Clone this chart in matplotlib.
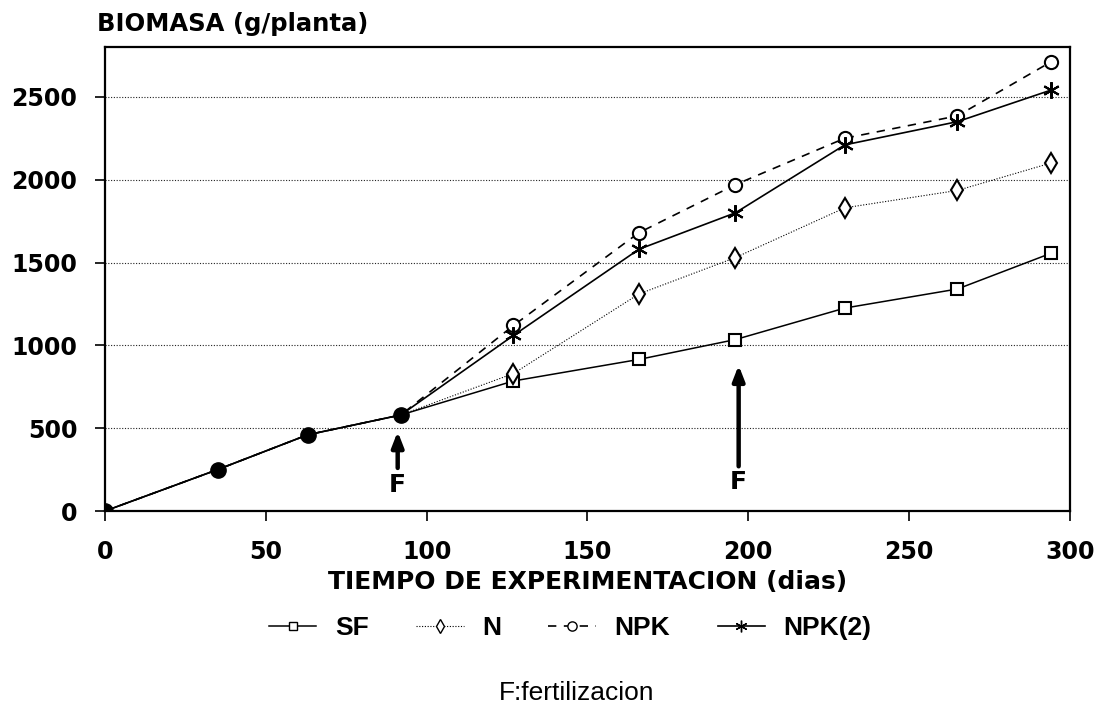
"""Biomasa por planta frente al tiempo de experimentacion."""
import matplotlib
matplotlib.use("Agg")
import matplotlib.pyplot as plt

plt.rcParams["font.family"] = ["DejaVu Sans"]

# --- data -------------------------------------------------------------
dias = [0, 35, 63, 92, 127, 166, 196, 230, 265, 294]
sf = [0, 250, 460, 580, 785, 915, 1035, 1225, 1340, 1555]
n = [0, 250, 460, 580, 830, 1310, 1530, 1830, 1935, 2100]
npk = [0, 250, 460, 580, 1120, 1680, 1970, 2250, 2385, 2710]
npk2 = [0, 250, 460, 580, 1060, 1580, 1800, 2210, 2350, 2540]
n_comun = 4  # primeros puntos compartidos por todos los tratamientos

fert_dias = [91, 197]
fert_desde = [260, 270]
fert_hasta = [480, 880]
fert_texto_y = [157, 175]

yticks = [0, 500, 1000, 1500, 2000, 2500]
xticks = [0, 50, 100, 150, 200, 250, 300]

# --- figure -----------------------------------------------------------
fig = plt.figure(figsize=(11.05, 7.26), dpi=100)
ax = fig.add_axes([0.0950, 0.2961, 0.8733, 0.639])

ax.set_xlim(0, 300)
ax.set_ylim(0, 2800)

for y in yticks[1:]:
    ax.axhline(y, color="#222222", linestyle=(0, (1, 1.5)), linewidth=0.8, zorder=1)

estrella = (6, 2, 0)
series = [
    (sf, "SF", "-", "s", 1.1, 8.5),
    (n, "N", (0, (1, 1.5)), "d", 0.8, 10),
    (npk, "NPK", (0, (5, 4.5)), "o", 1.2, 9.5),
    (npk2, "NPK(2)", "-", estrella, 1.2, 12),
]
handles = []
for vals, lab, ls, mk, lw, ms in series:
    ax.plot(dias, vals, color="black", linestyle=ls, linewidth=lw, zorder=2)
    ax.plot(dias[n_comun:], vals[n_comun:], linestyle="none", marker=mk,
            markersize=ms, markerfacecolor="white",
            markeredgecolor="black", markeredgewidth=1.5, zorder=3)
    h, = ax.plot([], [], color="black", linestyle=ls, linewidth=lw, marker=mk,
                 markersize=ms * 0.7, markerfacecolor="white",
                 markeredgecolor="black", markeredgewidth=1.0, label=lab)
    handles.append(h)

# puntos comunes antes de la fertilizacion
ax.plot(dias[:n_comun], sf[:n_comun], linestyle="none", marker="o",
        markersize=11, color="black", zorder=4)

for xf, y0, y1, yt in zip(fert_dias, fert_desde, fert_hasta, fert_texto_y):
    ax.annotate("", xy=(xf, y1), xytext=(xf, y0),
                arrowprops=dict(arrowstyle="-|>,head_width=0.35,head_length=0.9",
                                color="black", linewidth=3.2, shrinkA=0, shrinkB=0))
    ax.text(xf, yt, "F", ha="center", va="center", fontsize=18, fontweight="bold")

for side in ["left", "right", "top", "bottom"]:
    ax.spines[side].set_linewidth(1.6)

ax.set_xticks(xticks)
ax.set_yticks(yticks)
ax.tick_params(axis="both", direction="out", length=7, width=1.2)
ax.tick_params(axis="x", labelsize=17, pad=14)
ax.tick_params(axis="y", labelsize=17, pad=13)
for lbl in ax.get_xticklabels() + ax.get_yticklabels():
    lbl.set_fontweight("bold")

ax.set_xlabel("TIEMPO DE EXPERIMENTACION (dias)", fontsize=18, fontweight="bold")
ax.xaxis.label.set_va("center")
ax.xaxis.set_label_coords(0.5, -0.152)

fig.text(0.0878, 0.967, "BIOMASA (g/planta)", fontsize=17.5, fontweight="bold",
         ha="left", va="center")

fig.legend(handles=handles, loc="center", bbox_to_anchor=(0.516, 0.135),
           ncol=4, frameon=False, handlelength=1.8, handletextpad=0.7,
           columnspacing=1.8,
           prop=dict(family="Liberation Sans", weight="bold", size=19))

fig.text(0.522, 0.045, "F:fertilizacion", fontsize=19, family="Liberation Sans",
         ha="center", va="center")

fig.savefig("out.png", dpi=100)
